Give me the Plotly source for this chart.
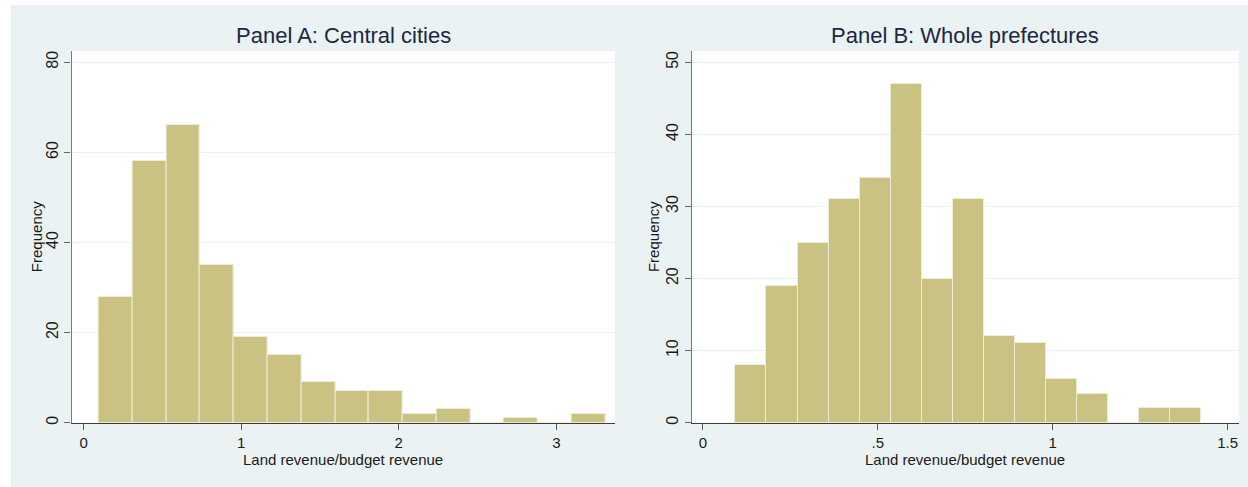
import plotly.graph_objects as go

# Histogram counts (15 equal-width bins each)
central_counts = [28, 58, 66, 35, 19, 15, 9, 7, 7, 2, 3, 0, 1, 0, 2]
central_bin_start = 0.096
central_bin_width = 0.2143

prefecture_counts = [8, 19, 25, 31, 34, 47, 20, 31, 12, 11, 6, 4, 0, 2, 2]
prefecture_bin_start = 0.0932
prefecture_bin_width = 0.08879

central_xticks = [0, 1, 2, 3]
central_xticklabels = ["0", "1", "2", "3"]
central_yticks = [0, 20, 40, 60, 80]
prefecture_xticks = [0, 0.5, 1, 1.5]
prefecture_xticklabels = ["0", ".5", "1", "1.5"]
prefecture_yticks = [0, 10, 20, 30, 40, 50]

panel_titles = ["Panel A: Central cities", "Panel B: Whole prefectures"]
x_title = "Land revenue/budget revenue"
y_title = "Frequency"

W, H = 1248, 487
FONT = "Liberation Sans, Arial, sans-serif"
BG = "#EAF2F3"
BAR = "#CAC283"
BAR_EDGE = "#EFECD3"
GRID = "#EAF1F2"


def fx(px):
    return px / W


def fy(py):
    return 1 - py / H


def centers(start, width, n):
    return [start + width * (i + 0.5) for i in range(n)]


fig = go.Figure()

fig.add_trace(go.Bar(
    x=centers(central_bin_start, central_bin_width, len(central_counts)),
    y=central_counts, width=central_bin_width,
    marker=dict(color=BAR, line=dict(color=BAR_EDGE, width=1)),
    xaxis="x", yaxis="y", showlegend=False, hoverinfo="x+y",
))
fig.add_trace(go.Bar(
    x=centers(prefecture_bin_start, prefecture_bin_width, len(prefecture_counts)),
    y=prefecture_counts, width=prefecture_bin_width,
    marker=dict(color=BAR, line=dict(color=BAR_EDGE, width=1)),
    xaxis="x2", yaxis="y2", showlegend=False, hoverinfo="x+y",
))

# plot-area pixel boxes: (left, right, top, bottom)
box_a = (71.6, 615.0, 51.0, 422.7)
box_b = (692.0, 1238.7, 51.0, 422.7)

xaxis_common = dict(
    showline=True, linecolor="#3c3c3c", linewidth=1.2, mirror=False,
    ticks="outside", ticklen=6, tickwidth=1, tickcolor="#555555",
    showgrid=False, zeroline=False,
    tickfont=dict(family=FONT, size=15, color="#1a1a1a"),
    automargin=False, fixedrange=True,
)
yaxis_common = dict(
    showline=True, linecolor="#7a7a7a", linewidth=1.4, mirror=False,
    ticks="outside", ticklen=6, tickwidth=1, tickcolor="#666666",
    showgrid=True, gridcolor=GRID, gridwidth=1, zeroline=False,
    tickangle=-90,
    tickfont=dict(family=FONT, size=16, color="#1a1a1a"),
    automargin=False, fixedrange=True,
)

fig.update_layout(
    width=W, height=H,
    margin=dict(l=0, r=0, t=0, b=0, pad=0),
    paper_bgcolor=BG, plot_bgcolor="white",
    bargap=0,
    xaxis=dict(domain=[fx(box_a[0]), fx(box_a[1])], anchor="y",
               range=[-0.0761, 3.372], tickvals=central_xticks,
               ticktext=central_xticklabels, **xaxis_common),
    yaxis=dict(domain=[fy(box_a[3]), fy(box_a[2])], anchor="x",
               range=[0, 82.5], tickvals=central_yticks, **yaxis_common),
    xaxis2=dict(domain=[fx(box_b[0]), fx(box_b[1])], anchor="y2",
                range=[-0.0309, 1.5316], tickvals=prefecture_xticks,
                ticktext=prefecture_xticklabels, **xaxis_common),
    yaxis2=dict(domain=[fy(box_b[3]), fy(box_b[2])], anchor="x2",
                range=[0, 51.57], tickvals=prefecture_yticks, **yaxis_common),
)

# white page border around the graph region (top and left strips)
fig.add_shape(type="rect", xref="paper", yref="paper", layer="above",
              x0=0, x1=1, y0=fy(5), y1=1.01, fillcolor="white", line_width=0)
fig.add_shape(type="rect", xref="paper", yref="paper", layer="above",
              x0=-0.01, x1=fx(11), y0=-0.01, y1=1.01, fillcolor="white", line_width=0)

annotations = []
for box, title, ylab_x in ((box_a, panel_titles[0], 37.3), (box_b, panel_titles[1], 654.2)):
    cx = (box[0] + box[1]) / 2
    cy = (box[2] + box[3]) / 2
    annotations.append(dict(
        text=title, x=fx(cx), y=fy(35.7), xref="paper", yref="paper",
        xanchor="center", yanchor="middle", showarrow=False,
        font=dict(family=FONT, size=22, color="#1d2742"),
    ))
    annotations.append(dict(
        text=x_title, x=fx(cx), y=fy(459.3), xref="paper", yref="paper",
        xanchor="center", yanchor="middle", showarrow=False,
        font=dict(family=FONT, size=15, color="#1a1a1a"),
    ))
    annotations.append(dict(
        text=y_title, x=fx(ylab_x), y=fy(cy), xref="paper", yref="paper",
        xanchor="center", yanchor="middle", showarrow=False, textangle=-90,
        font=dict(family=FONT, size=15, color="#1a1a1a"),
    ))
fig.update_layout(annotations=annotations)

fig.write_html("out.html")
